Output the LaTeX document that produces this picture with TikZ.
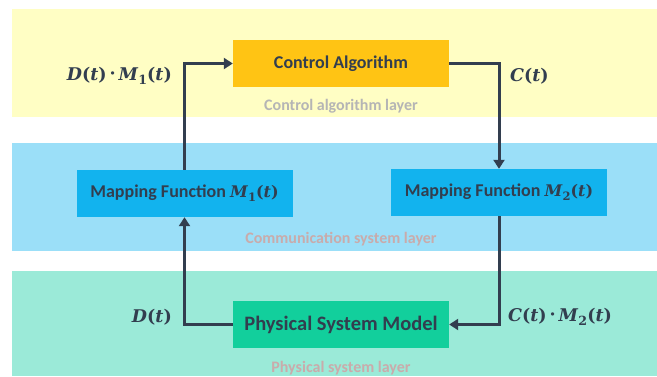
\documentclass[tikz,border=0pt]{standalone}
\usepackage{fontspec}
\setmainfont{Carlito}
\newfontfamily\sigfont{DejaVu Serif}
\usetikzlibrary{arrows.meta}

\definecolor{bandyellow}{HTML}{FFFEC4}
\definecolor{bandblue}{HTML}{9BDFF8}
\definecolor{bandgreen}{HTML}{9BEAD8}
\definecolor{boxamber}{HTML}{FFC414}
\definecolor{boxblue}{HTML}{12B3EE}
\definecolor{boxgreen}{HTML}{12CF9C}
\definecolor{inkdark}{HTML}{323E4F}
\definecolor{capgray}{HTML}{B5B5B5}
\definecolor{cappink}{HTML}{C9ABAB}

% signal names: bold italic letters, upright bold brackets, lowered index
\newcommand\sv[1]{\textit{#1}}
\newcommand\sub[1]{\raisebox{-0.25em}{\fontsize{0.72\dimexpr\fontdimen6\font\relax}{12}\selectfont #1}}
\newcommand\sdot{\,\raisebox{0.08em}{·}\,}
\newcommand\sig[1]{{\sigfont\bfseries #1}}

\tikzset{
  blockbox/.style={minimum width=216pt, minimum height=47pt, inner sep=0pt,
    text=inkdark, font=\fontsize{18}{21}\selectfont\bfseries},
  flow/.style={draw=inkdark, line width=3pt, line join=miter,
    -{Triangle[length=9pt,width=11pt]}},
  mathlabel/.style={text=inkdark, font=\sigfont\fontsize{17.5}{20}\selectfont\bfseries, inner sep=0pt},
  layercap/.style={font=\fontsize{16}{19}\selectfont\bfseries, inner sep=0pt}
}

\begin{document}
\begin{tikzpicture}[x=1pt, y=-1pt]
  \useasboundingbox (0,0) rectangle (657,376);

  % layer bands
  \fill[bandyellow] (12,9) rectangle (657,117);
  \fill[bandblue] (12,143) rectangle (657,251);
  \fill[bandgreen] (12,271) rectangle (657,376);

  % layer captions
  \node[layercap, text=capgray] (capctrl) at (341,106) {Control algorithm layer};
  \node[layercap, text=cappink] (capcomm) at (341,239) {Communication system layer};
  \node[layercap, text=cappink] (capphys) at (341,368) {Physical system layer};

  % blocks
  \node[blockbox, fill=boxamber] (ctrl) at (341,63.5) {Control Algorithm};
  \node[blockbox, fill=boxblue] (m1) at (184.5,193.5)
    {Mapping Function {\sigfont\fontsize{16}{19}\selectfont\sv{M}\sub{1}(\sv{t})}};
  \node[blockbox, fill=boxblue] (m2) at (499,192.5)
    {Mapping Function {\sigfont\fontsize{16}{19}\selectfont\sv{M}\sub{2}(\sv{t})}};
  \node[blockbox, fill=boxgreen, font=\fontsize{20.5}{24}\selectfont\bfseries] (phys) at (341,324.5) {Physical System Model};

  % feedback loop
  \draw[flow] (m1.north) |- (ctrl.west);
  \draw[flow] (ctrl.east) -| (m2.north);
  \draw[flow] (m2.south) |- (phys.east);
  \draw[flow] (phys.west) -| (m1.south);

  % signal labels
  \node[mathlabel, anchor=east] (lab1) at (172,76) {\sv{D}(\sv{t})\sdot\sv{M}\sub{1}(\sv{t})};
  \node[mathlabel, anchor=west] (lab2) at (510,76) {\sv{C}(\sv{t})};
  \node[mathlabel, anchor=east] (lab3) at (172,317) {\sv{D}(\sv{t})};
  \node[mathlabel, anchor=west] (lab4) at (508,317) {\sv{C}(\sv{t})\sdot\sv{M}\sub{2}(\sv{t})};
\end{tikzpicture}
\end{document}
